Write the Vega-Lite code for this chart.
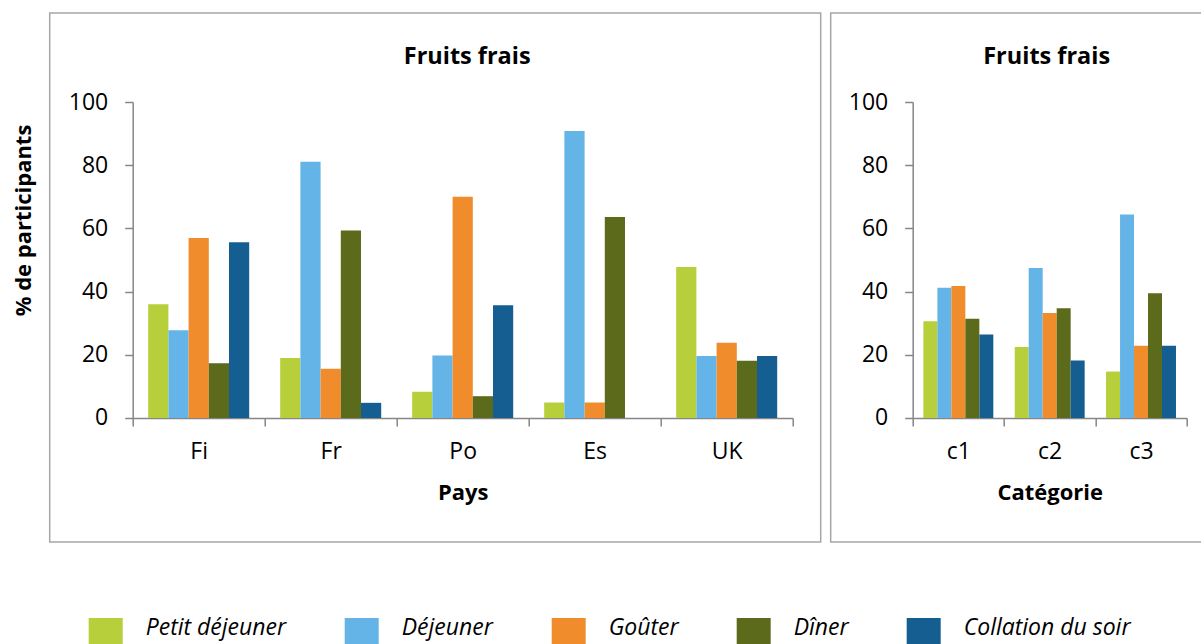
{
  "$schema": "https://vega.github.io/schema/vega-lite/v6.json",
  "padding": {"left": 11.7, "top": 12, "right": 0, "bottom": 0},
  "datasets": {
    "pays": [
      {"groupe": "Fi", "repas": "Petit déjeuner", "pct": 36.0},
      {"groupe": "Fi", "repas": "Déjeuner", "pct": 27.8},
      {"groupe": "Fi", "repas": "Goûter", "pct": 57.0},
      {"groupe": "Fi", "repas": "Dîner", "pct": 17.3},
      {"groupe": "Fi", "repas": "Collation du soir", "pct": 55.6},
      {"groupe": "Fr", "repas": "Petit déjeuner", "pct": 19.0},
      {"groupe": "Fr", "repas": "Déjeuner", "pct": 81.1},
      {"groupe": "Fr", "repas": "Goûter", "pct": 15.6},
      {"groupe": "Fr", "repas": "Dîner", "pct": 59.3},
      {"groupe": "Fr", "repas": "Collation du soir", "pct": 4.8},
      {"groupe": "Po", "repas": "Petit déjeuner", "pct": 8.3},
      {"groupe": "Po", "repas": "Déjeuner", "pct": 19.8},
      {"groupe": "Po", "repas": "Goûter", "pct": 70.0},
      {"groupe": "Po", "repas": "Dîner", "pct": 6.9},
      {"groupe": "Po", "repas": "Collation du soir", "pct": 35.7},
      {"groupe": "Es", "repas": "Petit déjeuner", "pct": 4.9},
      {"groupe": "Es", "repas": "Déjeuner", "pct": 90.8},
      {"groupe": "Es", "repas": "Goûter", "pct": 4.9},
      {"groupe": "Es", "repas": "Dîner", "pct": 63.6},
      {"groupe": "Es", "repas": "Collation du soir", "pct": 0},
      {"groupe": "UK", "repas": "Petit déjeuner", "pct": 47.8},
      {"groupe": "UK", "repas": "Déjeuner", "pct": 19.6},
      {"groupe": "UK", "repas": "Goûter", "pct": 23.8},
      {"groupe": "UK", "repas": "Dîner", "pct": 18.1},
      {"groupe": "UK", "repas": "Collation du soir", "pct": 19.6}
    ],
    "cat": [
      {"groupe": "c1", "repas": "Petit déjeuner", "pct": 30.6},
      {"groupe": "c1", "repas": "Déjeuner", "pct": 41.2},
      {"groupe": "c1", "repas": "Goûter", "pct": 41.8},
      {"groupe": "c1", "repas": "Dîner", "pct": 31.4},
      {"groupe": "c1", "repas": "Collation du soir", "pct": 26.4},
      {"groupe": "c2", "repas": "Petit déjeuner", "pct": 22.5},
      {"groupe": "c2", "repas": "Déjeuner", "pct": 47.5},
      {"groupe": "c2", "repas": "Goûter", "pct": 33.2},
      {"groupe": "c2", "repas": "Dîner", "pct": 34.7},
      {"groupe": "c2", "repas": "Collation du soir", "pct": 18.2},
      {"groupe": "c3", "repas": "Petit déjeuner", "pct": 14.7},
      {"groupe": "c3", "repas": "Déjeuner", "pct": 64.4},
      {"groupe": "c3", "repas": "Goûter", "pct": 22.9},
      {"groupe": "c3", "repas": "Dîner", "pct": 39.5},
      {"groupe": "c3", "repas": "Collation du soir", "pct": 22.9}
    ]
  },
  "spacing": 8,
  "hconcat": [
    {
      "width": 771,
      "height": 529,
      "data": {"name": "pays"},
      "title": {"text": "Fruits frais", "dx": 32},
      "mark": {"type": "bar"},
      "encoding": {
        "x": {
          "field": "groupe", "type": "nominal",
          "sort": ["Fi", "Fr", "Po", "Es", "UK"],
          "scale": {"range": [83, 743], "paddingInner": 0, "paddingOuter": 0},
          "axis": {"title": "Pays", "offset": -124, "tickBand": "extent", "labelAngle": 0}
        },
        "xOffset": {
          "field": "repas", "type": "nominal",
          "sort": ["Petit déjeuner", "Déjeuner", "Goûter", "Dîner", "Collation du soir"],
          "scale": {"paddingOuter": 0.767, "paddingInner": 0}
        },
        "y": {
          "field": "pct", "type": "quantitative",
          "scale": {"domain": [0, 100], "range": [405, 89], "nice": false},
          "axis": {
            "title": "% de participants", "values": [0, 20, 40, 60, 80, 100], "offset": -83,
            "titleX": -109, "titleY": 207, "titleAngle": 270, "titleBaseline": "middle", "titleAlign": "center"
          }
        },
        "color": {
          "field": "repas", "type": "nominal",
          "sort": ["Petit déjeuner", "Déjeuner", "Goûter", "Dîner", "Collation du soir"],
          "scale": {
            "domain": ["Petit déjeuner", "Déjeuner", "Goûter", "Dîner", "Collation du soir"],
            "range": ["#B6CF3B", "#65B4E8", "#F08C2C", "#5C6A1C", "#145E92"]
          },
          "legend": {"title": null}
        }
      }
    },
    {
      "width": 376,
      "height": 529,
      "data": {"name": "cat"},
      "title": {"text": "Fruits frais", "dx": 28},
      "mark": {"type": "bar"},
      "encoding": {
        "x": {
          "field": "groupe", "type": "nominal",
          "sort": ["c1", "c2", "c3"],
          "scale": {"range": [82, 356], "paddingInner": 0, "paddingOuter": 0},
          "axis": {"title": "Catégorie", "offset": -124, "tickBand": "extent", "labelAngle": 0}
        },
        "xOffset": {
          "field": "repas", "type": "nominal",
          "sort": ["Petit déjeuner", "Déjeuner", "Goûter", "Dîner", "Collation du soir"],
          "scale": {"paddingOuter": 0.765, "paddingInner": 0}
        },
        "y": {
          "field": "pct", "type": "quantitative",
          "scale": {"domain": [0, 100], "range": [405, 89], "nice": false},
          "axis": {"title": null, "values": [0, 20, 40, 60, 80, 100], "offset": -82}
        },
        "color": {
          "field": "repas", "type": "nominal",
          "sort": ["Petit déjeuner", "Déjeuner", "Goûter", "Dîner", "Collation du soir"],
          "scale": {
            "domain": ["Petit déjeuner", "Déjeuner", "Goûter", "Dîner", "Collation du soir"],
            "range": ["#B6CF3B", "#65B4E8", "#F08C2C", "#5C6A1C", "#145E92"]
          },
          "legend": {"title": null}
        }
      }
    }
  ],
  "resolve": {"scale": {"x": "independent", "y": "independent", "xOffset": "independent", "color": "shared"}, "legend": {"color": "shared"}},
  "config": {
    "font": "Open Sans",
    "view": {"stroke": "#A6A6A6", "strokeWidth": 1.5},
    "axis": {
      "domainColor": "#868686", "domainWidth": 1.5, "tickColor": "#868686", "tickWidth": 1.5, "tickSize": 8,
      "labelFont": "Open Sans", "labelFontSize": 23, "labelColor": "#000000",
      "titleFont": "Open Sans", "titleFontSize": 22, "titleFontWeight": "bold", "titleColor": "#000000",
      "grid": false
    },
    "axisX": {"labelPadding": 15, "titlePadding": 19},
    "axisY": {"labelPadding": 17},
    "title": {"font": "Open Sans", "fontSize": 23.5, "fontWeight": "bold", "color": "#000000", "anchor": "middle", "frame": "group", "baseline": "top", "offset": -55},
    "legend": {
      "orient": "bottom", "direction": "horizontal", "symbolType": "square", "symbolSize": 1156,
      "symbolStrokeWidth": 0, "labelFont": "Open Sans", "labelFontStyle": "italic", "labelFontSize": 23,
      "labelColor": "#000000", "labelOffset": 23, "labelLimit": 400, "labelBaseline": "alphabetic",
      "columnPadding": 58, "offset": 75, "padding": 0,
      "layout": {"bottom": {"anchor": "middle"}}
    }
  }
}
